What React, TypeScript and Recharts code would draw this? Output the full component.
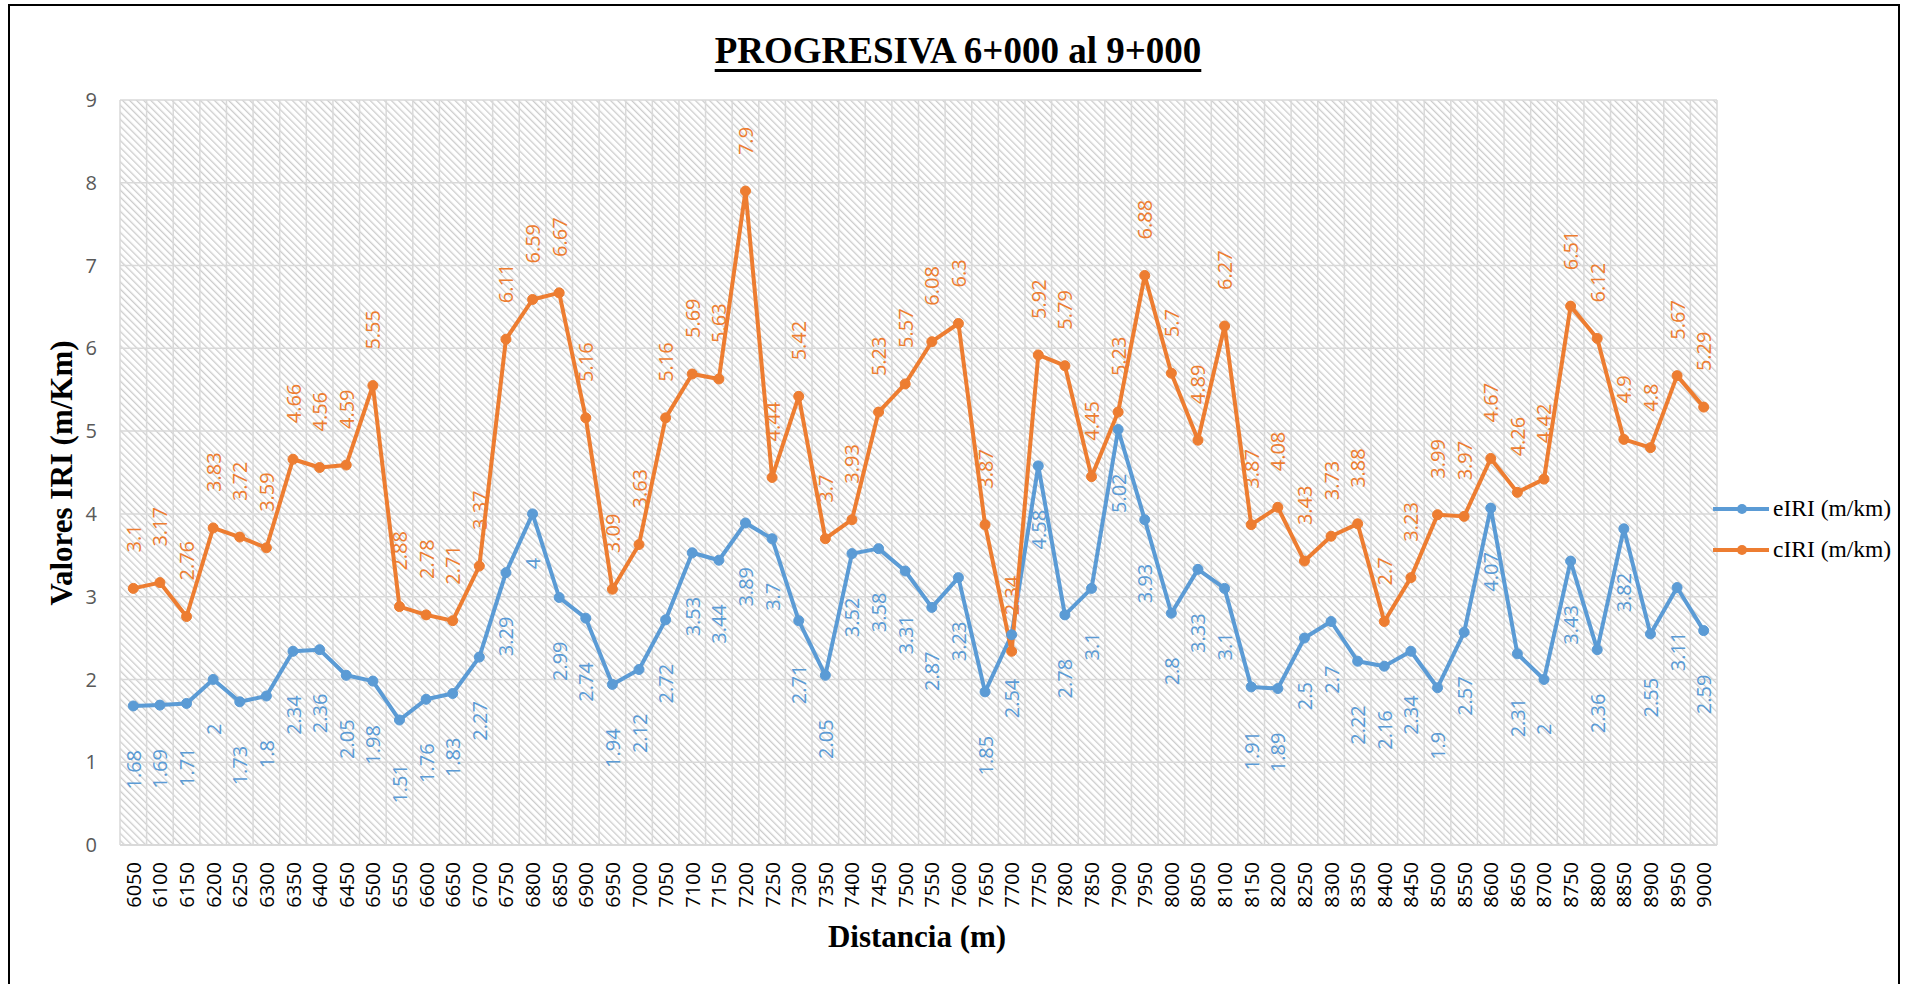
import React from "react"
import { LineChart, Line, XAxis, YAxis, CartesianGrid, LabelList } from "recharts"

const distances = [
  6050, 6100, 6150, 6200, 6250, 6300, 6350, 6400, 6450, 6500,
  6550, 6600, 6650, 6700, 6750, 6800, 6850, 6900, 6950, 7000,
  7050, 7100, 7150, 7200, 7250, 7300, 7350, 7400, 7450, 7500,
  7550, 7600, 7650, 7700, 7750, 7800, 7850, 7900, 7950, 8000,
  8050, 8100, 8150, 8200, 8250, 8300, 8350, 8400, 8450, 8500,
  8550, 8600, 8650, 8700, 8750, 8800, 8850, 8900, 8950, 9000,
]

const eIRI = [
  1.68, 1.69, 1.71, 2, 1.73, 1.8, 2.34, 2.36, 2.05, 1.98,
  1.51, 1.76, 1.83, 2.27, 3.29, 4, 2.99, 2.74, 1.94, 2.12,
  2.72, 3.53, 3.44, 3.89, 3.7, 2.71, 2.05, 3.52, 3.58, 3.31,
  2.87, 3.23, 1.85, 2.54, 4.58, 2.78, 3.1, 5.02, 3.93, 2.8,
  3.33, 3.1, 1.91, 1.89, 2.5, 2.7, 2.22, 2.16, 2.34, 1.9,
  2.57, 4.07, 2.31, 2, 3.43, 2.36, 3.82, 2.55, 3.11, 2.59,
]

const cIRI = [
  3.1, 3.17, 2.76, 3.83, 3.72, 3.59, 4.66, 4.56, 4.59, 5.55,
  2.88, 2.78, 2.71, 3.37, 6.11, 6.59, 6.67, 5.16, 3.09, 3.63,
  5.16, 5.69, 5.63, 7.9, 4.44, 5.42, 3.7, 3.93, 5.23, 5.57,
  6.08, 6.3, 3.87, 2.34, 5.92, 5.79, 4.45, 5.23, 6.88, 5.7,
  4.89, 6.27, 3.87, 4.08, 3.43, 3.73, 3.88, 2.7, 3.23, 3.99,
  3.97, 4.67, 4.26, 4.42, 6.51, 6.12, 4.9, 4.8, 5.67, 5.29,
]

const yTicks = [0, 1, 2, 3, 4, 5, 6, 7, 8, 9]

const BLUE = "#5B9BD5"
const ORANGE = "#ED7D31"
const SANS = "'Open Sans', sans-serif"
const SERIF = "'Liberation Serif', 'Times New Roman', serif"

const data = distances.map((d, i) => ({ distancia: d, eIRI: eIRI[i], cIRI: cIRI[i] }))

const XTick = (props: any) => {
  const { x, y, payload } = props
  return (
    <text x={x} y={y} transform={`rotate(-90, ${x}, ${y})`} textAnchor="end" dominantBaseline="central"
      fontSize={20} fontFamily={SANS} fill="#000">
      {payload.value}
    </text>
  )
}

// vertical labels, orange above the point, blue below
const makeLabel = (color: string, above: boolean) => (props: any) => {
  const x = props.x ?? props.viewBox?.x
  const y = props.y ?? props.viewBox?.y
  if (x == null || y == null) return null
  const ty = above ? y - 36 : y + 44
  return (
    <text x={x} y={ty} transform={`rotate(-90, ${x}, ${ty})`} textAnchor={above ? "start" : "end"}
      dominantBaseline="central" fill={color} fontSize={20} fontFamily={SANS}>
      {props.value}
    </text>
  )
}

const LegendItem = ({ color, label }: { color: string; label: string }) => (
  <div style={{ display: "flex", alignItems: "center", height: 41 }}>
    <svg width={58} height={14}>
      <line x1={0} y1={7} x2={56} y2={7} stroke={color} strokeWidth={4} />
      <circle cx={29} cy={7} r={5} fill={color} />
    </svg>
    <span style={{ fontFamily: SERIF, fontSize: 23.5, color: "#000", marginLeft: 2, whiteSpace: "nowrap" }}>{label}</span>
  </div>
)

export default function App() {
  return (
    <div style={{ position: "absolute", left: 0, top: 0, width: 1907, height: 984, overflow: "hidden" }}>
      <div style={{ position: "absolute", left: 8, top: 4, width: 1892, height: 980, border: "2px solid #000", borderBottom: "none", boxSizing: "border-box" }} />
      <div style={{ position: "absolute", left: 0, top: 0 }}>
        <LineChart width={1907} height={984} data={data} margin={{ top: 100, right: 190, left: 60, bottom: 59 }}>
          <defs>
            <pattern id="hatch" patternUnits="userSpaceOnUse" width={5} height={5} patternTransform="rotate(-45)">
              <rect x={0} y={0} width={5} height={5} fill="#ffffff" />
              <rect x={0} y={0} width={1.3} height={5} fill="#cdcdcd" />
            </pattern>
          </defs>
          <CartesianGrid
            stroke="#d9d9d9"
            strokeWidth={1.5}
            fill="url(#hatch)"
            verticalCoordinatesGenerator={({ offset }: any) =>
              distances.concat([0]).map((_, i) => offset.left + (i * offset.width) / distances.length)
            }
          />
          <XAxis dataKey="distancia" type="number" domain={[6025, 9025]} ticks={distances} interval={0}
            tick={<XTick />} tickLine={false} tickSize={0} tickMargin={17}
            axisLine={{ stroke: "#d9d9d9", strokeWidth: 2 }} height={80} />
          <YAxis domain={[0, 9]} ticks={yTicks} interval={0} tickLine={false} axisLine={false}
            tickSize={0} tickMargin={23} width={60}
            tick={{ fill: "#595959", fontSize: 20, fontFamily: SANS }} />
          <Line type="linear" dataKey="eIRI" name="eIRI (m/km)" stroke={BLUE} strokeWidth={4} strokeLinejoin="round"
            dot={{ r: 5, fill: BLUE, stroke: BLUE, strokeWidth: 1 }} isAnimationActive={false}>
            <LabelList dataKey="eIRI" content={makeLabel(BLUE, false)} />
          </Line>
          <Line type="linear" dataKey="cIRI" name="cIRI (m/km)" stroke={ORANGE} strokeWidth={4} strokeLinejoin="round"
            dot={{ r: 5, fill: ORANGE, stroke: ORANGE, strokeWidth: 1 }} isAnimationActive={false}>
            <LabelList dataKey="cIRI" content={makeLabel(ORANGE, true)} />
          </Line>
        </LineChart>
      </div>

      <div style={{ position: "absolute", left: 958, top: 32, transform: "translateX(-50%)", fontFamily: SERIF, fontWeight: "bold",
        fontSize: 37, lineHeight: "37px", whiteSpace: "nowrap", textDecoration: "underline", textDecorationThickness: 3, textUnderlineOffset: 6 }}>
        PROGRESIVA 6+000 al 9+000
      </div>
      <div style={{ position: "absolute", left: 917, top: 921, transform: "translateX(-50%)", fontFamily: SERIF, fontWeight: "bold",
        fontSize: 31, lineHeight: "31px", whiteSpace: "nowrap" }}>
        Distancia (m)
      </div>
      <div style={{ position: "absolute", left: 61, top: 473, transform: "translate(-50%, -50%) rotate(-90deg)", fontFamily: SERIF,
        fontWeight: "bold", fontSize: 31, lineHeight: "31px", whiteSpace: "nowrap" }}>
        Valores IRI (m/Km)
      </div>
      <div style={{ position: "absolute", left: 1713, top: 488 }}>
        <LegendItem color={BLUE} label="eIRI (m/km)" />
        <LegendItem color={ORANGE} label="cIRI (m/km)" />
      </div>
    </div>
  )
}
